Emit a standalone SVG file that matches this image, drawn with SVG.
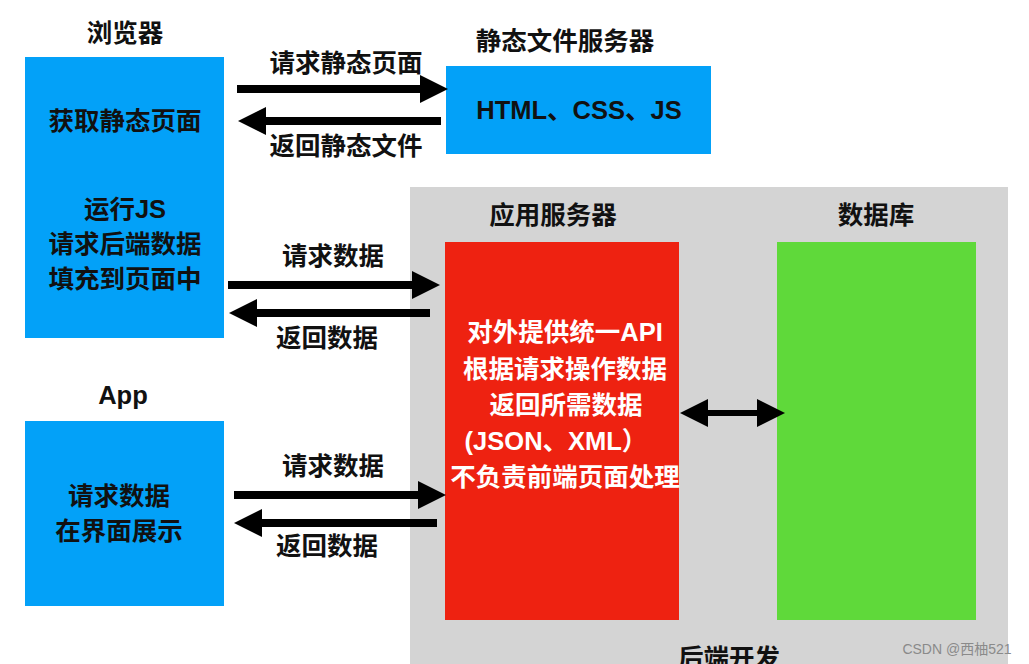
<svg xmlns="http://www.w3.org/2000/svg" width="1029" height="664" viewBox="0 0 1029 664">
<style>
.t{font-family:"Liberation Sans","Noto Sans CJK SC",sans-serif;font-weight:bold;font-size:25.5px;fill:#111;text-anchor:middle}
.w{fill:#fff}
.blue{fill:#03A1F8}
.ln{stroke:#000;stroke-width:8;fill:none}
.wm{font-family:"Liberation Sans","Noto Sans CJK SC",sans-serif;font-size:14px;fill:#8a8a8a;text-anchor:middle}
</style>
<defs>
<marker id="ah" markerUnits="userSpaceOnUse" markerWidth="28" markerHeight="28" viewBox="0 0 28 28" refX="1" refY="14" orient="auto-start-reverse">
<path d="M0,0 L28,14 L0,28 Z" fill="#000"/>
</marker>
</defs>
<rect width="1029" height="664" fill="#fff"/>
<g id="backend">
<rect x="410" y="187" width="598" height="490" fill="#D4D4D4"/>
<text class="t" x="729" y="667">后端开发</text>
</g>
<g id="browser">
<rect class="blue" x="25" y="57" width="199" height="281"/>
<text class="t" x="125" y="42">浏览器</text>
<text class="t" x="125" y="130">获取静态页面</text>
<text class="t" x="125" y="218">运行JS</text>
<text class="t" x="125" y="253">请求后端数据</text>
<text class="t" x="125" y="288">填充到页面中</text>
</g>
<g id="static-server">
<rect class="blue" x="446" y="66" width="265" height="88"/>
<text class="t" x="565" y="50">静态文件服务器</text>
<text class="t" x="579" y="119">HTML、CSS、JS</text>
</g>
<g id="app">
<rect class="blue" x="25" y="421" width="199" height="185"/>
<text class="t" x="123" y="404">App</text>
<text class="t" x="119" y="505">请求数据</text>
<text class="t" x="119" y="540">在界面展示</text>
</g>
<g id="app-server">
<rect x="445" y="242" width="234" height="378" fill="#EE2211"/>
<text class="t" x="553" y="224">应用服务器</text>
<text class="t w" x="565" y="341">对外提供统一API</text>
<text class="t w" x="565" y="378">根据请求操作数据</text>
<text class="t w" x="566" y="414">返回所需数据</text>
<text class="t w" x="556" y="450">(JSON、XML）</text>
<text class="t w" x="565" y="486">不负责前端页面处理</text>
</g>
<g id="database">
<rect x="777" y="242" width="199" height="378" fill="#5FD93A"/>
<text class="t" x="876" y="224">数据库</text>
</g>
<g id="connectors">
<line class="ln" x1="237" y1="89" x2="421" y2="89" marker-end="url(#ah)"/>
<line class="ln" x1="441" y1="121" x2="265" y2="121" marker-end="url(#ah)"/>
<line class="ln" x1="228" y1="285" x2="413" y2="285" marker-end="url(#ah)"/>
<line class="ln" x1="430" y1="313" x2="256" y2="313" marker-end="url(#ah)"/>
<line class="ln" x1="234" y1="495" x2="419" y2="495" marker-end="url(#ah)"/>
<line class="ln" x1="437" y1="523" x2="261" y2="523" marker-end="url(#ah)"/>
<line x1="707" y1="413" x2="758" y2="413" stroke="#000" stroke-width="6" marker-start="url(#ah)" marker-end="url(#ah)"/>
<text class="t" x="346" y="72">请求静态页面</text>
<text class="t" x="346" y="155">返回静态文件</text>
<text class="t" x="333" y="265">请求数据</text>
<text class="t" x="327" y="347">返回数据</text>
<text class="t" x="333" y="475">请求数据</text>
<text class="t" x="327" y="555">返回数据</text>
</g>
<text class="wm" x="957" y="654">CSDN @西柚521</text>
</svg>
